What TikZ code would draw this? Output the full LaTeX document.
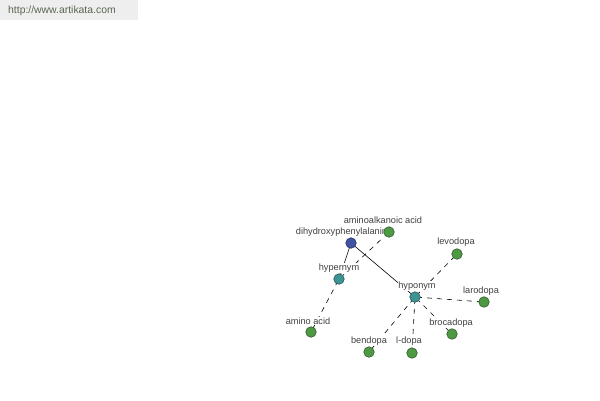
\documentclass[tikz,border=0pt]{standalone}
\usepackage{fontspec}
\setmainfont{Liberation Sans}
\begin{document}
\begin{tikzpicture}[x=1pt,y=-1pt,
  vnode/.style={circle,draw=#1!60!black,fill=#1,line width=0.6pt,minimum size=10.5pt,inner sep=0pt},
  lbl/.style={font=\fontsize{9.2}{10}\selectfont,text=black!75,fill=white,inner sep=0.6pt},
  solidedge/.style={draw=black,line width=0.6pt},
  dashedge/.style={draw=black,line width=0.6pt,dash pattern=on 5pt off 5pt,shorten <=2pt,shorten >=2pt}]
\definecolor{vblue}{HTML}{4252A2}
\definecolor{vteal}{HTML}{3E9393}
\definecolor{vgreen}{HTML}{4E9A44}
\definecolor{hdrbg}{HTML}{EEEEEE}
\definecolor{hdrtx}{HTML}{5A6650}
\useasboundingbox (0,0) rectangle (600,400);
\fill[white] (0,0) rectangle (600,400);
\fill[hdrbg] (0,0) rectangle (138,20);
\node[anchor=west,font=\fontsize{10.4}{12}\selectfont,text=hdrtx,inner sep=0pt] (hdr) at (8,11) {http://www.artikata.com};
% coordinates
\coordinate (pD) at (351,243);
\coordinate (pA) at (389,232);
\coordinate (pHy) at (339,279);
\coordinate (pHo) at (415,297);
\coordinate (pAA) at (311,332);
\coordinate (pLe) at (457,254);
\coordinate (pLa) at (484,302);
\coordinate (pBr) at (452,334);
\coordinate (pLd) at (412,353);
\coordinate (pBe) at (369,352);
% edges
\draw[dashedge] (pHy) -- (pA);
\draw[dashedge] (pHy) -- (pAA);
\draw[dashedge] (pHo) -- (pLe);
\draw[dashedge] (pHo) -- (pLa);
\draw[dashedge] (pHo) -- (pBr);
\draw[dashedge] (pHo) -- (pLd);
\draw[dashedge] (pHo) -- (pBe);
\draw[solidedge] (pD) -- (pHy);
\draw[solidedge] (pD) -- (pHo);
% labels
\node[lbl] (tA) at (383,220) {aminoalkanoic acid};
\node[lbl] (tD) at (344,232) {dihydroxyphenylalanine};
\node[lbl] (tHy) at (339,268) {hypernym};
\node[lbl] (tHo) at (417,286) {hyponym};
\node[lbl] (tAA) at (308,321) {amino acid};
\node[lbl] (tLe) at (456,242) {levodopa};
\node[lbl] (tLa) at (481,291) {larodopa};
\node[lbl] (tBr) at (451,323) {brocadopa};
\node[lbl] (tLd) at (409,341) {l-dopa};
\node[lbl] (tBe) at (369,341) {bendopa};
% nodes
\node[vnode=vblue] (D) at (pD) {};
\node[vnode=vgreen] (A) at (pA) {};
\node[vnode=vteal] (Hy) at (pHy) {};
\node[vnode=vteal] (Ho) at (pHo) {};
\node[vnode=vgreen] (AA) at (pAA) {};
\node[vnode=vgreen] (Le) at (pLe) {};
\node[vnode=vgreen] (La) at (pLa) {};
\node[vnode=vgreen] (Br) at (pBr) {};
\node[vnode=vgreen] (Ld) at (pLd) {};
\node[vnode=vgreen] (Be) at (pBe) {};
\end{tikzpicture}
\end{document}
